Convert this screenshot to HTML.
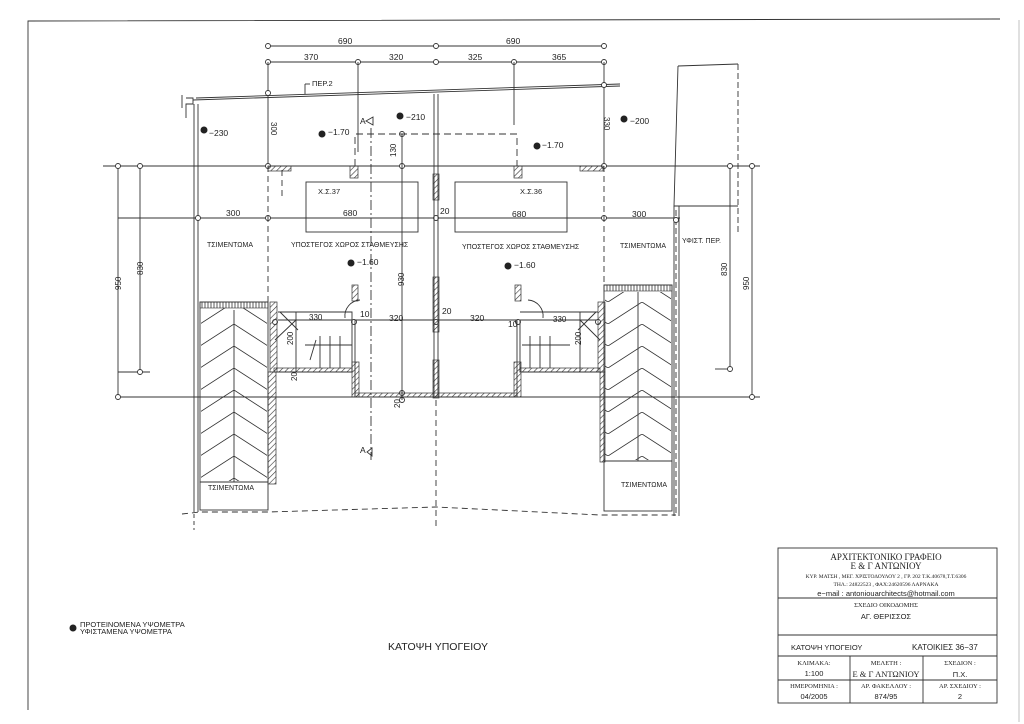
<!DOCTYPE html>
<html><head><meta charset="utf-8"><style>
html,body{margin:0;padding:0;background:#fff}
svg{display:block}
text{font-family:"Liberation Sans",sans-serif;fill:#222}
.s{font-family:"Liberation Serif",serif}
</style></head><body>
<svg width="1024" height="724" viewBox="0 0 1024 724" xmlns="http://www.w3.org/2000/svg">
<defs>
<pattern id="h" width="4" height="4" patternUnits="userSpaceOnUse" patternTransform="rotate(45)"><line x1="0" y1="0" x2="0" y2="4" stroke="#333" stroke-width="1.2"/></pattern>
<pattern id="zz" width="68" height="22" patternUnits="userSpaceOnUse" x="200" y="302"><path d="M0 22 L34 0 L68 22" fill="none" stroke="#333" stroke-width="0.8"/></pattern>
<pattern id="vt" width="3" height="6" patternUnits="userSpaceOnUse"><line x1="1" y1="0" x2="1" y2="6" stroke="#333" stroke-width="0.8"/></pattern>
</defs>
<g fill="none" stroke="#333" stroke-width="0.9">
<!-- frame -->
<polyline points="28,710 28,21 1000,19"/>
<line x1="1019" y1="20" x2="1019" y2="722" stroke="#bbb"/>
<!-- top dims -->
<line x1="268" y1="46" x2="604" y2="46"/>
<line x1="268" y1="62" x2="604" y2="62"/>
<g fill="#fff"><circle cx="268" cy="46" r="2.5"/><circle cx="436" cy="46" r="2.5"/><circle cx="604" cy="46" r="2.5"/>
<circle cx="268" cy="62" r="2.5"/><circle cx="358" cy="62" r="2.5"/><circle cx="436" cy="62" r="2.5"/><circle cx="514" cy="62" r="2.5"/><circle cx="604" cy="62" r="2.5"/></g>
<line x1="268" y1="62" x2="268" y2="166"/><line x1="358" y1="62" x2="358" y2="152"/><line x1="514" y1="62" x2="514" y2="125"/><line x1="604" y1="62" x2="604" y2="166"/>
<!-- roof line -->
<line x1="193" y1="100" x2="620" y2="86"/><line x1="196" y1="98" x2="620" y2="84"/>
<line x1="305" y1="84" x2="305" y2="94"/><line x1="305" y1="84" x2="310" y2="84"/>
<path d="M182 95 V108 M186 98 H193 V104 H186 V112 M186 112 V118"/>
<!-- left vertical building walls -->
<line x1="194" y1="104" x2="194" y2="512"/><line x1="198" y1="104" x2="198" y2="512"/>
<line x1="194" y1="514" x2="194" y2="530" stroke-dasharray="4,3"/>
<!-- right building -->
<path d="M678 66 L738 64 M678 66 L674 206 H738"/>
<line x1="738" y1="64" x2="738" y2="232" stroke-dasharray="6,3"/>
<line x1="674" y1="206" x2="674" y2="516"/><line x1="679" y1="206" x2="679" y2="516"/>
<line x1="676" y1="210" x2="676" y2="514" stroke-dasharray="6,3"/>
<!-- grid horizontals -->
<line x1="103" y1="166" x2="760" y2="166"/>
<line x1="118" y1="218" x2="680" y2="218"/>
<line x1="278" y1="320" x2="600" y2="320"/>
<line x1="118" y1="397" x2="760" y2="397"/>
<line x1="118" y1="372" x2="150" y2="372"/><line x1="715" y1="369" x2="730" y2="369"/>
<line x1="118" y1="166" x2="118" y2="397"/><line x1="140" y1="166" x2="140" y2="372"/>
<line x1="730" y1="166" x2="730" y2="369"/><line x1="752" y1="166" x2="752" y2="397"/>
<g fill="#fff"><circle cx="118" cy="166" r="2.5"/><circle cx="140" cy="166" r="2.5"/><circle cx="118" cy="397" r="2.5"/><circle cx="140" cy="372" r="2.5"/>
<circle cx="730" cy="166" r="2.5"/><circle cx="752" cy="166" r="2.5"/><circle cx="730" cy="369" r="2.5"/><circle cx="752" cy="397" r="2.5"/>
<circle cx="268" cy="166" r="2.5"/><circle cx="604" cy="166" r="2.5"/><circle cx="402" cy="166" r="2.5"/><circle cx="402" cy="134" r="2.5"/>
<circle cx="268" cy="218" r="2.5"/><circle cx="198" cy="218" r="2.5"/><circle cx="436" cy="218" r="2.5"/><circle cx="604" cy="218" r="2.5"/><circle cx="676" cy="220" r="2.5"/>
<circle cx="268" cy="93" r="2.5"/><circle cx="604" cy="85" r="2.5"/>
<circle cx="275" cy="322" r="2.5"/><circle cx="354" cy="322" r="2.5"/><circle cx="436" cy="322" r="2.5"/><circle cx="518" cy="322" r="2.5"/><circle cx="598" cy="322" r="2.5"/>
<circle cx="402" cy="393" r="2.5"/><circle cx="402" cy="400" r="2.5"/></g>
<!-- center wall -->
<line x1="434" y1="94" x2="434" y2="397"/><line x1="438" y1="94" x2="438" y2="397"/>
<line x1="436" y1="400" x2="436" y2="530" stroke-dasharray="6,4"/>
<!-- dashed rect & section -->
<path d="M355 166 V134 H517 V166" stroke-dasharray="7,4"/>
<line x1="371" y1="128" x2="371" y2="460" stroke-dasharray="10,3,2,3"/>
<line x1="402" y1="134" x2="402" y2="400"/>
<path d="M366 121 L373 117 L373 125 Z"/><path d="M367 452 L372 448 L372 456 Z"/>
<!-- dashed verticals -->
<line x1="268" y1="166" x2="268" y2="302" stroke-dasharray="6,4"/>
<line x1="282" y1="170" x2="282" y2="200" stroke-dasharray="6,4"/>
<line x1="604" y1="166" x2="604" y2="285" stroke-dasharray="6,4"/>
<line x1="198" y1="166" x2="268" y2="166" stroke-dasharray="6,4"/>
<!-- parking boxes -->
<rect x="306" y="182" width="112" height="50"/><rect x="455" y="182" width="112" height="50"/>
<!-- bottom dashed outline -->
<path d="M182 514 L200 512 H268 L436 507 L600 515 H676" stroke-dasharray="6,4"/>
<!-- stairs left -->
<path d="M278 312 H352 V372 H274"/>
<path d="M355 320 V397 H517 V320"/>
<path d="M520 320 V372 H600 M520 312 H598"/>
<path d="M296 312 V372 M298 330 L280 312 M275 340 L296 320 M305 345 H352 M320 336 V368 M330 336 V368 M340 336 V368 M310 360 L316 340"/>
<path d="M580 312 V372 M578 330 L596 312 M600 340 L580 320 M522 345 H570 M540 336 V368 M550 336 V368 M530 336 V368"/>
<path d="M345 318 A16 16 0 0 1 360 300"/><path d="M528 300 A16 16 0 0 1 543 318"/>
<!-- hatch pads outline -->
<rect x="200" y="302" width="68" height="180"/><rect x="604" y="285" width="68" height="176"/>
<rect x="200" y="482" width="68" height="28"/><rect x="604" y="461" width="68" height="50"/>
<line x1="234" y1="310" x2="234" y2="482"/><line x1="638" y1="292" x2="638" y2="461"/>
</g>
<!-- fills -->
<rect x="201" y="308" width="66" height="173" fill="url(#zz)"/>
<rect x="605" y="292" width="66" height="168" fill="url(#zz)"/>
<rect x="200" y="302" width="68" height="6" fill="url(#vt)" stroke="#333" stroke-width=".6"/>
<rect x="604" y="285" width="68" height="6" fill="url(#vt)" stroke="#333" stroke-width=".6"/>
<g fill="url(#h)" stroke="#333" stroke-width=".7">
<rect x="268" y="166" width="23" height="5"/><rect x="580" y="166" width="23" height="5"/>
<rect x="350" y="166" width="8" height="12"/><rect x="514" y="166" width="8" height="12"/>
<rect x="433" y="174" width="6" height="26"/><rect x="433" y="277" width="6" height="55"/><rect x="433" y="360" width="6" height="38"/>
<rect x="270" y="302" width="7" height="70"/><rect x="268" y="372" width="8" height="112"/>
<rect x="598" y="302" width="7" height="70"/><rect x="600" y="372" width="5" height="90"/>
<rect x="274" y="368" width="78" height="4"/><rect x="520" y="368" width="80" height="4"/>
<rect x="352" y="362" width="7" height="35"/><rect x="514" y="362" width="7" height="35"/>
<rect x="355" y="393" width="162" height="4"/>
<rect x="352" y="285" width="6" height="16"/><rect x="515" y="285" width="6" height="16"/>
</g>
<!-- level markers -->
<g fill="#222">
<circle cx="204" cy="130" r="3.5"/><circle cx="322" cy="134" r="3.5"/><circle cx="400" cy="116" r="3.5"/><circle cx="537" cy="146" r="3.5"/><circle cx="624" cy="119" r="3.5"/><circle cx="351" cy="263" r="3.5"/><circle cx="508" cy="266" r="3.5"/><circle cx="73" cy="628" r="3.5"/>
</g>
<g font-size="8.5">
<text x="338" y="44">690</text><text x="506" y="44">690</text>
<text x="304" y="60">370</text><text x="389" y="60">320</text><text x="468" y="60">325</text><text x="552" y="60">365</text>
<text x="312" y="86" font-size="7.5">ΠΕΡ.2</text>
<text x="209" y="136">−230</text><text x="328" y="135">−1.70</text><text x="406" y="120">−210</text><text x="542" y="148">−1.70</text><text x="630" y="124">−200</text>
<text x="357" y="265">−1.60</text><text x="514" y="268">−1.60</text>
<text x="360" y="124">A</text><text x="360" y="453">A</text>
<text x="226" y="216">300</text><text x="343" y="216">680</text><text x="512" y="217">680</text><text x="632" y="217">300</text>
<text x="440" y="214">20</text><text x="442" y="314">20</text><text x="360" y="317">10</text><text x="508" y="327">10</text>
<text x="389" y="321">320</text><text x="470" y="321">320</text>
<text x="309" y="320" font-size="8">330</text><text x="553" y="322" font-size="8">330</text>
<text x="318" y="194" font-size="7.5">Χ.Σ.37</text><text x="520" y="194" font-size="7.5">Χ.Σ.36</text>
<text x="207" y="247" font-size="7">ΤΣΙΜΕΝΤΩΜΑ</text><text x="620" y="248" font-size="7">ΤΣΙΜΕΝΤΩΜΑ</text>
<text x="208" y="490" font-size="7">ΤΣΙΜΕΝΤΩΜΑ</text><text x="621" y="487" font-size="7">ΤΣΙΜΕΝΤΩΜΑ</text>
<text x="291" y="247" font-size="7">ΥΠΟΣΤΕΓΟΣ ΧΩΡΟΣ ΣΤΑΘΜΕΥΣΗΣ</text><text x="462" y="249" font-size="7">ΥΠΟΣΤΕΓΟΣ ΧΩΡΟΣ ΣΤΑΘΜΕΥΣΗΣ</text>
<text x="682" y="243" font-size="7">ΥΦΙΣΤ. ΠΕΡ.</text>
</g>
<g font-size="8">
<text transform="translate(271,122) rotate(90)">300</text>
<text transform="translate(604,117) rotate(90)">330</text>
<text transform="translate(396,157) rotate(-90)">130</text>
<text transform="translate(404,286) rotate(-90)">930</text>
<text transform="translate(121,290) rotate(-90)">950</text>
<text transform="translate(143,275) rotate(-90)">830</text>
<text transform="translate(727,276) rotate(-90)">830</text>
<text transform="translate(749,290) rotate(-90)">950</text>
<text transform="translate(293,345) rotate(-90)">200</text>
<text transform="translate(297,381) rotate(-90)">20</text>
<text transform="translate(400,408) rotate(-90)">20</text>
<text transform="translate(581,345) rotate(-90)">200</text>
</g>
<text x="80" y="627" font-size="7.5">ΠΡΟΤΕΙΝΟΜΕΝΑ ΥΨΟΜΕΤΡΑ</text>
<text x="80" y="634" font-size="7.5">ΥΦΙΣΤΑΜΕΝΑ ΥΨΟΜΕΤΡΑ</text>
<text x="388" y="650" font-size="10.5">ΚΑΤΟΨΗ ΥΠΟΓΕΙΟΥ</text>
<!-- title block -->
<g fill="none" stroke="#333" stroke-width="0.9">
<rect x="778" y="548" width="219" height="155"/>
<line x1="778" y1="598" x2="997" y2="598"/>
<line x1="778" y1="635" x2="997" y2="635"/>
<line x1="778" y1="656" x2="997" y2="656"/>
<line x1="778" y1="680" x2="997" y2="680"/>
<line x1="850" y1="656" x2="850" y2="703"/><line x1="923" y1="656" x2="923" y2="703"/>
</g>
<g class="s" text-anchor="middle">
<text class="s" x="886" y="560" font-size="9">ΑΡΧΙΤΕΚΤΟΝΙΚΟ ΓΡΑΦΕΙΟ</text>
<text class="s" x="886" y="569" font-size="9">Ε &amp; Γ ΑΝΤΩΝΙΟΥ</text>
<text class="s" x="886" y="578" font-size="5.5">ΚΥΡ. ΜΑΤΣΗ , ΜΕΓ. ΧΡΙΣΤΟΔΟΥΛΟΥ 2 , ΓΡ. 202 Τ.Κ.40678,Τ.Τ.6306</text>
<text class="s" x="886" y="586" font-size="5.5">ΤΗΛ.: 24822523 , ΦΑΧ:24620596  ΛΑΡΝΑΚΑ</text>
<text x="886" y="596" font-size="7.5" style="font-family:'Liberation Sans',sans-serif">e−mail : antoniouarchitects@hotmail.com</text>
<text class="s" x="886" y="607" font-size="6.5">ΣΧΕΔΙΟ ΟΙΚΟΔΟΜΗΣ</text>
<text x="886" y="619" font-size="7.5" style="font-family:'Liberation Sans',sans-serif">ΑΓ. ΘΕΡΙΣΣΟΣ</text>
<text class="s" x="814" y="665" font-size="6.5">ΚΛΙΜΑΚΑ:</text>
<text class="s" x="886" y="665" font-size="6.5">ΜΕΛΕΤΗ :</text>
<text class="s" x="960" y="665" font-size="6.5">ΣΧΕΔΙΟΝ :</text>
<text class="s" x="814" y="688" font-size="6.5">ΗΜΕΡΟΜΗΝΙΑ :</text>
<text class="s" x="886" y="688" font-size="6.5">ΑΡ. ΦΑΚΕΛΛΟΥ :</text>
<text class="s" x="960" y="688" font-size="6.5">ΑΡ. ΣΧΕΔΙΟΥ :</text>
<text class="s" x="886" y="677" font-size="8.5">Ε &amp; Γ ΑΝΤΩΝΙΟΥ</text>
</g>
<g font-size="7.5" text-anchor="middle">
<text x="814" y="676">1:100</text><text x="960" y="677">Π.Χ.</text>
<text x="814" y="699">04/2005</text><text x="886" y="699">874/95</text><text x="960" y="699">2</text>
</g>
<text x="791" y="650" font-size="7.5">ΚΑΤΟΨΗ ΥΠΟΓΕΙΟΥ</text>
<text x="912" y="650" font-size="8">ΚΑΤΟΙΚΙΕΣ 36−37</text>
</svg>
</body></html>
